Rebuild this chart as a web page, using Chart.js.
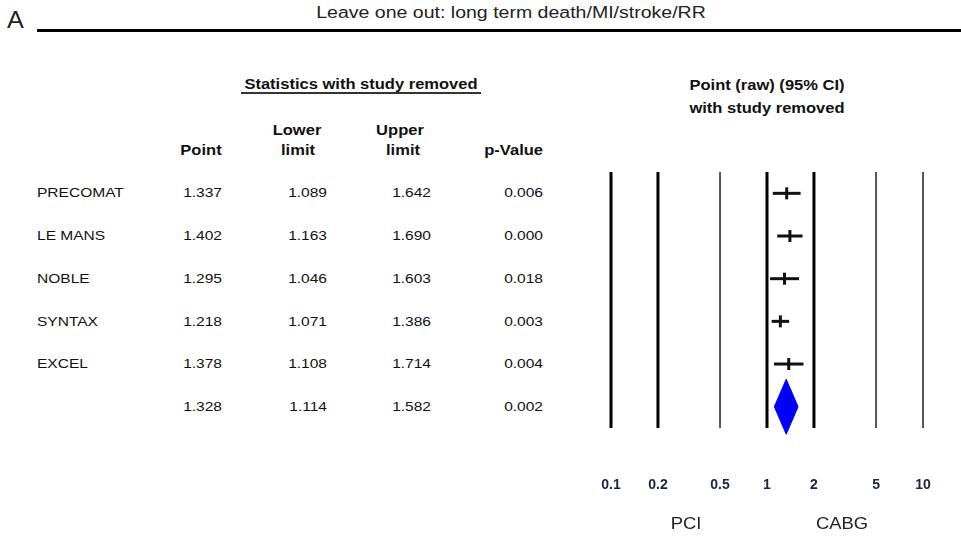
<!DOCTYPE html>
<html>
<head>
<meta charset="utf-8">
<script src="https://cdn.jsdelivr.net/npm/chart.js@4.4.1/dist/chart.umd.min.js"></script>
<style>
    body { margin: 0; width: 961px; height: 540px; background: #fff; position: relative; overflow: hidden;
           font-family: "Liberation Sans", Arial, sans-serif; color: #111; }
    .t { position: absolute; white-space: nowrap; line-height: 1; }
    #plotBox { position: absolute; left: 580px; top: 160px; width: 380px; height: 380px; }
    .rule { position: absolute; background: #000; }
</style>
</head>
<body>
<div class="rule" style="left:37px; top:29px; width:924px; height:3px;"></div>
<div class="rule" style="left:241px; top:92px; width:240px; height:2px; background:#333;"></div>
<div id="plotBox"><canvas id="forestChart"></canvas></div>

<script>
// -------------------------
// data
// -------------------------
const studies    = ['PRECOMAT', 'LE MANS', 'NOBLE', 'SYNTAX', 'EXCEL', ''];
const pointVals  = [1.337, 1.402, 1.295, 1.218, 1.378, 1.328];
const lowerVals  = [1.089, 1.163, 1.046, 1.071, 1.108, 1.114];
const upperVals  = [1.642, 1.690, 1.603, 1.386, 1.714, 1.582];
const pVals      = [0.006, 0.000, 0.018, 0.003, 0.004, 0.002];
const xTicks     = [0.1, 0.2, 0.5, 1, 2, 5, 10];
const thickTicks = [0.1, 0.2, 1, 2];

// -------------------------
// text helper: x = anchor, y = middle of text
// -------------------------
function txt(str, x, y, o) {
    o = o || {};
    let size = o.size || 13.5;
    let sx = o.sx || 1.15;
    let align = o.align || 'left';
    let d = document.createElement('div');
    d.className = 't';
    d.textContent = str;
    d.style.fontSize = size + 'px';
    d.style.fontWeight = o.bold ? 'bold' : 'normal';
    if (o.color) d.style.color = o.color;
    d.style.top = (y - size / 2) + 'px';
    d.style.width = '400px';
    d.style.textAlign = align;
    if (align === 'left') { d.style.left = x + 'px'; d.style.transformOrigin = 'left center'; }
    if (align === 'right') { d.style.left = (x - 400) + 'px'; d.style.transformOrigin = 'right center'; }
    if (align === 'center') { d.style.left = (x - 200) + 'px'; d.style.transformOrigin = 'center center'; }
    d.style.transform = 'scaleX(' + sx + ')';
    document.body.appendChild(d);
}

// titles
txt('A', 7, 20, { size: 24, sx: 1.05, color: '#222' });
txt('Leave one out: long term death/MI/stroke/RR', 511, 13, { size: 16, sx: 1.22, align: 'center', color: '#222' });
txt('Statistics with study removed', 361, 84, { size: 14, sx: 1.18, bold: true, align: 'center' });
txt('Point (raw) (95% CI)', 767, 85, { size: 14, sx: 1.18, bold: true, align: 'center' });
txt('with study removed', 767, 108, { size: 14, sx: 1.18, bold: true, align: 'center' });

// table headers
txt('Point', 201, 150, { size: 14, sx: 1.18, bold: true, align: 'center' });
txt('Lower', 297, 130, { size: 14, sx: 1.18, bold: true, align: 'center' });
txt('limit', 298, 150, { size: 14, sx: 1.18, bold: true, align: 'center' });
txt('Upper', 400, 130, { size: 14, sx: 1.18, bold: true, align: 'center' });
txt('limit', 403, 150, { size: 14, sx: 1.18, bold: true, align: 'center' });
txt('p-Value', 543, 150, { size: 14, sx: 1.18, bold: true, align: 'right' });

// table rows
const rowY = [193, 236, 279, 322, 364, 407];
studies.forEach(function (name, i) {
    if (name) txt(name, 37, rowY[i], {});
    txt(pointVals[i].toFixed(3), 222, rowY[i], { align: 'right' });
    txt(lowerVals[i].toFixed(3), 327, rowY[i], { align: 'right' });
    txt(upperVals[i].toFixed(3), 431, rowY[i], { align: 'right' });
    txt(pVals[i].toFixed(3), 543, rowY[i], { align: 'right' });
});

txt('PCI', 686, 524, { size: 16, sx: 1.15, align: 'center', color: '#222' });
txt('CABG', 842, 524, { size: 16, sx: 1.15, align: 'center', color: '#222' });

// -------------------------
// forest plot
// -------------------------
let datasets = [];
const nStudies = 5;
const rowTop = 0.5, rowBottom = 6.5;

// vertical reference lines at each tick
xTicks.forEach(function (v) {
    let thick = thickTicks.includes(v);
    datasets.push({
        data: [{ x: v, y: rowTop }, { x: v, y: rowBottom }],
        showLine: true,
        borderColor: thick ? '#000' : '#555',
        borderWidth: thick ? 3 : 2,
        pointRadius: 0,
        clip: false,
        order: 10
    });
});

// CI whiskers
for (let i = 0; i < nStudies; i++) {
    datasets.push({
        data: [{ x: lowerVals[i], y: i + 1 }, { x: upperVals[i], y: i + 1 }],
        showLine: true,
        borderColor: '#111',
        borderWidth: 3,
        pointRadius: 0,
        order: 2
    });
}

// point estimates (small vertical tick)
datasets.push({
    data: pointVals.slice(0, nStudies).map((v, i) => ({ x: v, y: i + 1 })),
    showLine: false,
    pointStyle: 'line',
    rotation: 90,
    pointRadius: 6,
    borderColor: '#111',
    borderWidth: 3,
    order: 1
});

// summary diamond
const dH = 0.645;
const sumRow = 6;
datasets.push({
    data: [
        { x: lowerVals[5], y: sumRow },
        { x: pointVals[5], y: sumRow - dH },
        { x: upperVals[5], y: sumRow },
        { x: pointVals[5], y: sumRow + dH },
        { x: lowerVals[5], y: sumRow }
    ],
    showLine: true,
    fill: 'shape',
    backgroundColor: '#0000ff',
    borderColor: '#0000ff',
    borderWidth: 1,
    pointRadius: 0,
    clip: false,
    order: 1
});

let ctx = document.getElementById('forestChart').getContext('2d');

let forestChart = new Chart(ctx, {
    type: 'scatter',
    data: { datasets: datasets },
    options: {
        responsive: true,
        maintainAspectRatio: false,
        animation: false,
        layout: { padding: { top: 12, left: 31, right: 37, bottom: 0 } },
        plugins: { legend: { display: false }, tooltip: { enabled: false } },
        scales: {
            x: {
                type: 'logarithmic',
                min: 0.1,
                max: 10,
                afterBuildTicks: function (scale) {
                    scale.ticks = xTicks.map(v => ({ value: v }));
                },
                afterFit: function (scale) {
                    // fixed axis band, no extra side padding from labels
                    scale.height = 100;
                    scale.paddingLeft = 0;
                    scale.paddingRight = 0;
                },
                border: { display: false },
                grid: { display: false, drawTicks: false },
                ticks: {
                    padding: 37,
                    color: '#1c2340',
                    font: { family: 'Liberation Sans', size: 14, weight: 'bold' },
                    callback: function (v) { return String(v); }
                }
            },
            y: {
                display: false,
                reverse: true,
                min: rowTop,
                max: 6.78
            }
        }
    }
});
</script>
</body>
</html>
